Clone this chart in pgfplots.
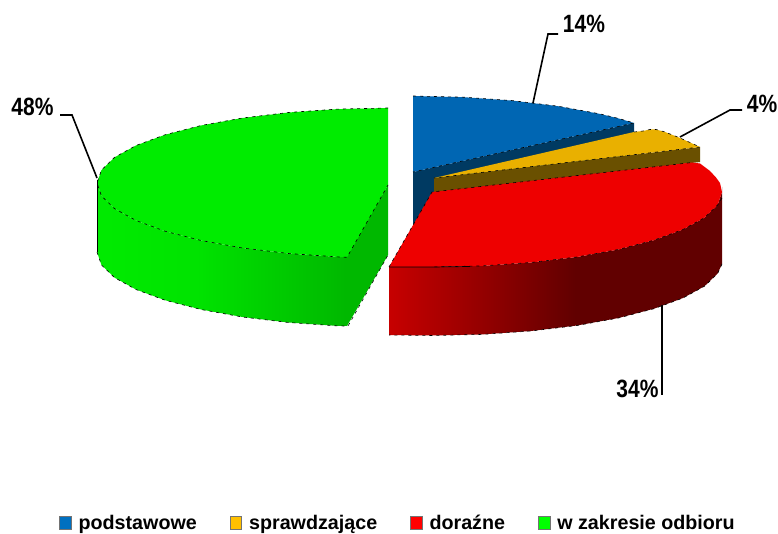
\documentclass[border=0pt]{standalone}
\usepackage{fontspec}
\setmainfont{Liberation Sans}
\newfontface\labfont[FakeStretch=0.84]{Liberation Sans Bold}
\usepackage{pgfplots}
\pgfplotsset{compat=1.18}
\definecolor{bluetop}{HTML}{0066B3}
\definecolor{bluewall}{HTML}{003A62}
\definecolor{yeltop}{HTML}{E9B000}
\definecolor{yelwall}{HTML}{6A5000}
\definecolor{redtop}{HTML}{EE0000}
\definecolor{greentop}{HTML}{00EC00}
\definecolor{greenin}{HTML}{00B800}
\definecolor{legblue}{HTML}{0070C0}
\definecolor{legyel}{HTML}{FFC000}
\definecolor{legred}{HTML}{FF0000}
\definecolor{leggreen}{HTML}{00FF00}
\pgfdeclarehorizontalshading{redwall}{100bp}{color(0bp)=(red!78!black); color(25bp)=(red!78!black); color(53bp)=(red!38!black); color(75bp)=(red!38!black); color(100bp)=(red!38!black)}
\pgfdeclarehorizontalshading{greenwall}{100bp}{color(0bp)=(green!92!black); color(25bp)=(green!92!black); color(45bp)=(green!89!black); color(75bp)=(green!72!black); color(100bp)=(green!72!black)}
\tikzset{lab/.style={font=\fontsize{25}{25}\labfont, inner sep=0pt}}
\begin{document}
\begin{tikzpicture}
\begin{axis}[
  scale only axis, width=778pt, height=534pt,
  xmin=0, xmax=778, ymin=0, ymax=534, y dir=reverse,
  axis lines=none, clip=false,
  s/.style={forget plot, no markers},
  edge/.style={forget plot, no markers, black, line width=0.6pt, dash pattern=on 3pt off 4pt},
  lead/.style={forget plot, no markers, black, line width=1.6pt},
  legend columns=4,
  legend style={at={(axis cs:398,523)}, anchor=center, draw=none, fill=none,
    font=\fontsize{19.7}{20}\selectfont\bfseries, inner sep=0pt,
    /tikz/every odd column/.append style={column sep=5pt},
    /tikz/every even column/.append style={column sep=31pt}},
  legend image code/.code={\draw[#1, draw=black!55, line width=0.8pt] (0pt,-6.5pt) rectangle (11.5pt,6.5pt);},
]
% blue wall and top
\addplot[s, fill=bluewall, draw=none] coordinates {(413,172)(634,123)(634,191)(413,240)};
\addplot[s, fill=bluetop, draw=none] coordinates {(413,172)(413,96)(463.4,97.2)(512.2,100.6)(558,106.2)(599.4,113.8)(618,118.3)(634,123)};
\addplot[edge] coordinates {(413,96)(463.4,97.2)(512.2,100.6)(558,106.2)(599.4,113.8)(618,118.3)(634,123)(413,172)};
% yellow wall and top
\addplot[s, fill=yelwall, draw=none] coordinates {(434,178)(700,147)(700,162)(434,192)};
\addplot[s, fill=yeltop, draw=none] coordinates {(434,178)(634,132)(643,131)(650,129.5)(656,129.5)(665,132)(680,138)(690,142.5)(700,147)};
\addplot[edge] coordinates {(634,132)(643,131)(650,129.5)(656,129.5)(665,132)(680,138)(690,142.5)(700,147)(434,178)};
% red wall and top
\addplot[s, shading=redwall, draw=none] coordinates {(722,187)(722,192)(717.6,205)(704.5,217.7)(683,229.5)(654,240.2)(618.4,249.5)(577,257)(531,262.5)(482.4,265.9)(432,267)(389,267)(389,335)(432,335.5)(482.4,334.4)(531,331)(577,325.5)(618.4,318)(654,308.7)(683,298)(704.5,286.2)(717.6,273.5)(722,264)};
\addplot[s, fill=redtop, draw=none] coordinates {(432,192)(692,162.5)(700,163.5)(710,171)(716,177.5)(720,183)(722,192)(717.6,205)(704.5,217.7)(683,229.5)(654,240.2)(618.4,249.5)(577,257)(531,262.5)(482.4,265.9)(432,267)(389,267)};
\addplot[edge] coordinates {(389,267)(432,192)(692,162.5)};
\addplot[edge] coordinates {(722,198)(717.6,205)(704.5,217.7)(683,229.5)(654,240.2)(618.4,249.5)(577,257)(531,262.5)(482.4,265.9)(432,267)};
\addplot[forget plot, no markers, black, line width=0.7pt] coordinates {(389,267)(432,267)(470,266.5)};
\addplot[edge] coordinates {(722,264)(717.6,273.5)(704.5,286.2)(683,298)(654,308.7)(618.4,318)(577,325.5)(531,331)(482.4,334.4)(432,335.5)(389,335)};
% green inner wall, outer wall, top
\addplot[s, fill=greenin, draw=none] coordinates {(346,257.3)(388,185)(388,255)(347,326)};
\addplot[s, shading=greenwall, draw=none] coordinates {(97,183)(101.5,196)(114.5,208.6)(136,220.5)(165,231.2)(201,240.5)(242.5,248)(288.5,253.5)(337.5,256.9)(347,257.3)(347,326)(337.5,325.9)(288.5,322.5)(242.5,317)(201,309.5)(165,300.2)(136,289.5)(114.5,277.6)(101.5,265)(97,252)};
\addplot[s, fill=greentop, draw=none] coordinates {(388,185)(388,108)(337.5,109.1)(288.5,112.5)(242.5,118)(201,125.5)(165,134.8)(136,145.5)(114.5,157.4)(101.5,170)(97,183)(101.5,196)(114.5,208.6)(136,220.5)(165,231.2)(201,240.5)(242.5,248)(288.5,253.5)(337.5,256.9)(347,257.3)};
\addplot[edge] coordinates {(388,108)(337.5,109.1)(288.5,112.5)(242.5,118)(201,125.5)(165,134.8)(136,145.5)(114.5,157.4)(101.5,170)(97,183)(101.5,196)(114.5,208.6)(136,220.5)(165,231.2)(201,240.5)(242.5,248)(288.5,253.5)(337.5,256.9)(347,257.3)(388,185)};
\addplot[edge] coordinates {(97,252)(101.5,265)(114.5,277.6)(136,289.5)(165,300.2)(201,309.5)(242.5,317)(288.5,322.5)(337.5,325.9)(348,326)(388,255)};
\addplot[forget plot, no markers, black, line width=0.8pt] coordinates {(97,180)(97,252)};
% leader lines
\addplot[lead] coordinates {(533,103)(548,34)(558,34)};
\addplot[lead] coordinates {(680,137)(730,110)(742,110)};
\addplot[lead] coordinates {(662,305)(662,395)};
\addplot[lead] coordinates {(97,178)(72,115)(60,115)};
% labels
\node[lab, anchor=center] at (axis cs:584,24) {14\%};
\node[lab, anchor=center] at (axis cs:762,103.5) {4\%};
\node[lab, anchor=center] at (axis cs:637.5,389) {34\%};
\node[lab, anchor=center] at (axis cs:32.5,107) {48\%};
% legend
\addlegendimage{fill=legblue}
\addlegendentry{podstawowe}
\addlegendimage{fill=legyel}
\addlegendentry{sprawdzające}
\addlegendimage{fill=legred}
\addlegendentry{doraźne}
\addlegendimage{fill=leggreen}
\addlegendentry{w zakresie odbioru}
\end{axis}
\path (0pt,0pt) rectangle (778pt,534pt);
\end{tikzpicture}
\end{document}
